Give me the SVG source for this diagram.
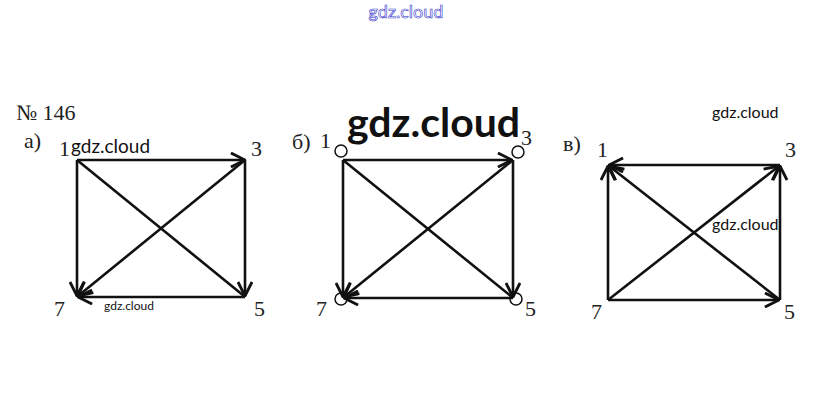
<svg xmlns="http://www.w3.org/2000/svg" width="815" height="419" viewBox="0 0 815 419">
<style>
.s{font-family:"Liberation Serif","DejaVu Serif",serif;font-size:22px;fill:#222}
.w{font-family:Lato,"Open Sans","Liberation Sans",sans-serif;fill:#111}
.e{stroke:#111;stroke-width:2.6;fill:none}
.l{stroke:#111;stroke-width:1.5;fill:none}
</style>
<defs>
<marker id="a" viewBox="0 0 12 12" refX="11" refY="6" markerWidth="6.5" markerHeight="6.5" orient="auto" markerUnits="strokeWidth">
<path d="M1,1 L11,6 L1,11" fill="none" stroke="#111" stroke-width="2"/>
</marker>
</defs>
<rect width="815" height="419" fill="#fff"/>
<text x="406" y="18" text-anchor="middle" font-family="Lato,'Open Sans',sans-serif" font-size="18" fill="#fff" stroke="#3333cc" stroke-width="0.6">gdz.cloud</text>
<text class="s" x="16" y="120" font-size="24">№ 146</text>
<text class="s" x="24" y="148">а)</text>
<text class="s" x="292" y="149">б)</text>
<text class="s" x="563" y="151">в)</text>
<g id="connectors">
<g id="edges-a">
<line class="e" x1="77" y1="160" x2="245" y2="160" marker-end="url(#a)"/>
<line class="e" x1="245" y1="160" x2="245" y2="296" marker-end="url(#a)"/>
<line class="e" x1="245" y1="297" x2="78" y2="297" marker-end="url(#a)"/>
<line class="e" x1="77" y1="160" x2="77" y2="296" marker-end="url(#a)"/>
<line class="e" x1="245" y1="160" x2="78" y2="296" marker-end="url(#a)"/>
<line class="e" x1="77" y1="160" x2="244" y2="296"/>
</g>
<g id="edges-b">
<line class="e" x1="343" y1="160" x2="512" y2="160" marker-end="url(#a)"/>
<line class="e" x1="513" y1="160" x2="513" y2="297" marker-end="url(#a)"/>
<line class="e" x1="513" y1="298" x2="344" y2="298" marker-end="url(#a)"/>
<line class="e" x1="343" y1="160" x2="343" y2="297" marker-end="url(#a)"/>
<line class="e" x1="513" y1="160" x2="344" y2="297" marker-end="url(#a)"/>
<line class="e" x1="343" y1="160" x2="512" y2="297"/>
<circle class="l" cx="341" cy="151" r="6"/>
<circle class="l" cx="518" cy="152" r="6"/>
<circle class="l" cx="341" cy="299" r="6"/>
<circle class="l" cx="516" cy="299" r="6"/>
</g>
<g id="edges-c">
<line class="e" x1="780" y1="165" x2="609" y2="165" marker-end="url(#a)"/>
<line class="e" x1="608" y1="300" x2="608" y2="166" marker-end="url(#a)"/>
<line class="e" x1="780" y1="300" x2="609" y2="166" marker-end="url(#a)"/>
<line class="e" x1="608" y1="300" x2="779" y2="166" marker-end="url(#a)"/>
<line class="e" x1="780" y1="300" x2="780" y2="166" marker-end="url(#a)"/>
<line class="e" x1="608" y1="300" x2="779" y2="300" marker-end="url(#a)"/>
</g>
</g>
<g id="node-a1"><text class="s" x="59" y="156">1</text><text class="w" x="71" y="153" font-size="19">gdz.cloud</text></g>
<g id="node-a3"><text class="s" x="251" y="156">3</text></g>
<g id="node-a7"><text class="s" x="54" y="316">7</text></g>
<g id="node-a5"><text class="s" x="254" y="316">5</text></g>
<text class="w" x="104" y="310" font-size="12">gdz.cloud</text>
<g id="node-b1"><text class="s" x="320" y="148">1</text></g>
<g id="node-b3"><text class="s" x="521" y="145">3</text></g>
<g id="node-b7"><text class="s" x="316" y="316">7</text></g>
<g id="node-b5"><text class="s" x="525" y="316">5</text></g>
<text class="w" x="347" y="137" font-size="41" font-weight="bold">gdz.cloud</text>
<g id="node-c1"><text class="s" x="597" y="157">1</text></g>
<g id="node-c3"><text class="s" x="785" y="157">3</text></g>
<g id="node-c7"><text class="s" x="591" y="319">7</text></g>
<g id="node-c5"><text class="s" x="784" y="319">5</text></g>
<text class="w" x="712" y="118" font-size="16">gdz.cloud</text>
<text class="w" x="712" y="230" font-size="16">gdz.cloud</text>
</svg>
